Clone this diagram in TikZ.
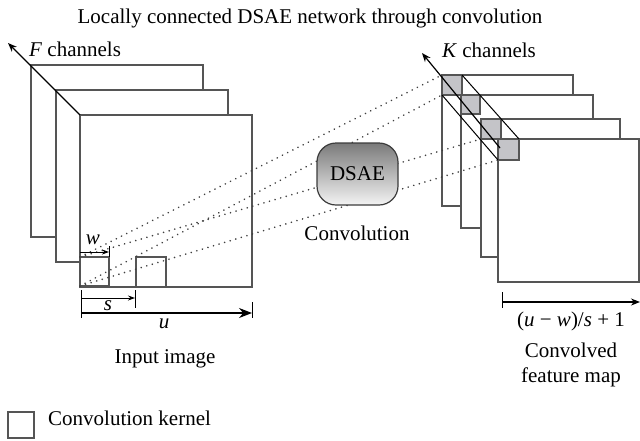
\documentclass[tikz,border=0pt]{standalone}
\usepackage{fontspec}
\setmainfont{Liberation Serif}
\usetikzlibrary{arrows.meta}
\definecolor{edge}{HTML}{555555}
\definecolor{kern}{HTML}{C4C4C8}
\definecolor{dotc}{HTML}{404040}
\definecolor{shtop}{HTML}{7A7A7A}
\definecolor{shbot}{HTML}{F4F4F4}
\begin{document}
\begin{tikzpicture}[x=1pt,y=-1pt,
  sheet/.style={draw=edge, fill=white, line width=1.2pt, inner sep=0pt, outer sep=0pt, anchor=north west},
  kbox/.style={draw=edge, line width=1.2pt, inner sep=0pt, outer sep=0pt, anchor=north west},
  gbox/.style={draw=edge, fill=kern, line width=1.5pt, inner sep=0pt, outer sep=0pt, anchor=north west},
  lbl/.style={font=\fontsize{21}{25}\selectfont, inner sep=0pt, anchor=base},
  dotline/.style={draw=dotc, line width=1.8pt, dash pattern=on 0.01pt off 5.8pt, line cap=round},
  arr/.style={line width=1.2pt, -{Stealth[length=9pt,width=7pt]}},
  smallarr/.style={line width=1pt, -{Stealth[length=7pt,width=5pt]}},
  bigarr/.style={line width=1.2pt, -{Stealth[length=13pt,width=10pt]}},
  tick/.style={line width=1pt},
  ]
\useasboundingbox (0,0) rectangle (640,440);

% title
\node[lbl] (title) at (310,23) {Locally connected DSAE network through convolution};

% left stack (input image, F channels)
\node[sheet, minimum width=172pt, minimum height=172pt] (f1) at (31,65) {};
\node[sheet, minimum width=172pt, minimum height=172pt] (f2) at (56,90) {};
\node[sheet, minimum width=172pt, minimum height=172pt] (f3) at (80,115) {};
\coordinate (ftip) at (8,43);
\draw[arr] (f3.north west) -- (ftip);
\node[lbl, anchor=base west] (flabel) at (29,56) {\textit{F} channels};

% convolution kernels on input
\node[kbox, minimum width=29pt, minimum height=29pt] (k1) at (80,257) {};
\node[kbox, minimum width=30pt, minimum height=30pt] (k2) at (136,257) {};

% right stack (convolved feature maps, K channels)
\node[sheet, minimum width=131pt, minimum height=131pt] (r1) at (442,75) {};
\node[gbox, minimum width=20pt, minimum height=20pt] (g1) at (442,75) {};
\node[sheet, minimum width=132pt, minimum height=133pt] (r2) at (461,95) {};
\node[gbox, minimum width=19pt, minimum height=19pt] (g2) at (461,95) {};
\node[sheet, minimum width=139pt, minimum height=138pt] (r3) at (481,119) {};
\node[gbox, minimum width=20pt, minimum height=20pt] (g3) at (481,119) {};
\node[sheet, minimum width=141pt, minimum height=143pt] (r4) at (498,139) {};
\node[gbox, minimum width=21pt, minimum height=21pt] (g4) at (498,139) {};

% dotted projection lines
\draw[dotline] (k1.north west) -- (g1.north west);
\draw[dotline] (k1.south west) -- (g1.south west);
\draw[dotline] (k1.north west) -- (g3.south west);
\draw[dotline] (k1.south west) -- (g4.south west);

% DSAE box
\node[draw=edge!70!black, line width=1.2pt, rounded corners=19pt,
      top color=shtop, bottom color=shbot,
      minimum width=81pt, minimum height=62pt, inner sep=0pt,
      font=\fontsize{21}{25}\selectfont] (dsae) at (357.5,174) {DSAE};
\node[lbl] (conv) at (357,240) {Convolution};

% diagonal guide lines and K arrow
\draw[line width=1pt] (g1.north east) -- (g4.north east);
\draw[line width=1pt] (g1.south west) -- (g4.south west);
\coordinate (kstart) at (500,148);
\coordinate (ktip) at (422,53);
\draw[arr] (kstart) -- (ktip);
\node[lbl, anchor=base west] (klabel) at (442,57) {\textit{K} channels};

% w measurement
\coordinate (w0) at (80,252);
\coordinate (w1) at (109,252);
\coordinate (w1t) at (109,246);
\draw[smallarr] (w0) -- (w1);
\draw[tick] (w1t) -- (k1.north east);
\node[lbl] (wl) at (93,244) {\textit{w}};

% s and u measurements
\coordinate (ua) at (81,290);
\coordinate (ub) at (81,318);
\draw[tick] (ua) -- (ub);
\coordinate (s0) at (81,298);
\coordinate (s1) at (135,298);
\coordinate (sta) at (135,290);
\coordinate (stb) at (135,308);
\draw[smallarr] (s0) -- (s1);
\draw[tick] (sta) -- (stb);
\node[lbl] (sl) at (108,310) {\textit{s}};
\coordinate (u0) at (81,313);
\coordinate (u1) at (252,313);
\coordinate (uta) at (252,302);
\coordinate (utb) at (252,318);
\draw[bigarr] (u0) -- (u1);
\draw[tick] (uta) -- (utb);
\node[lbl] (ul) at (164,328) {\textit{u}};
\node[lbl] (inimg) at (165,363) {Input image};

% output size measurement
\coordinate (o0) at (502,302);
\coordinate (o1) at (640,302);
\coordinate (ota) at (502,292);
\coordinate (otb) at (502,308);
\draw[arr] (o0) -- (o1);
\draw[tick] (ota) -- (otb);
\node[lbl] (osize) at (571,326) {(\textit{u} − \textit{w})/\textit{s} + 1};
\node[lbl] (cf1) at (571,357) {Convolved};
\node[lbl] (cf2) at (571,382) {feature map};

% legend
\node[kbox, minimum width=26pt, minimum height=26pt] (leg) at (8,412) {};
\node[lbl, anchor=base west] (legt) at (48,425) {Convolution kernel};
\end{tikzpicture}
\end{document}
